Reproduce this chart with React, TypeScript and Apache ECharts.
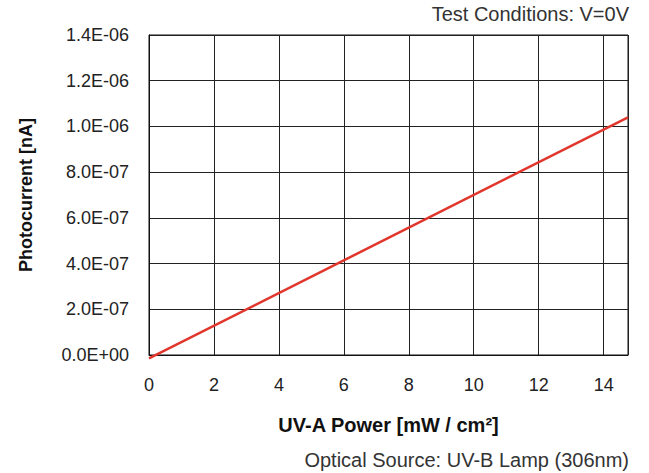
import React, { useEffect, useRef } from "react";
import * as echarts from "echarts";

const xPower: number[] = [0, 14.75];
const yCurrent: number[] = [-1.5e-8, 1.04e-6];
const xTitle = "UV-A Power [mW / cm²]";
const yTitle = "Photocurrent [nA]";
const topNote = "Test Conditions: V=0V";
const bottomNote = "Optical Source: UV-B Lamp (306nm)";

const fmtExp = (v: number) => {
  const [m, e] = v.toExponential(1).split("e");
  const sign = e[0];
  const d = e.slice(1).padStart(2, "0");
  return `${m}E${sign}${d}`.toUpperCase();
};

export default function App() {
  const ref = useRef<HTMLDivElement>(null);
  useEffect(() => {
    if (!ref.current) return;
    const chart = echarts.init(ref.current, null, { renderer: "svg" });
    const font = "'Liberation Sans', Arial, sans-serif";
    chart.setOption({
      animation: false,
      backgroundColor: "#ffffff",
      textStyle: { fontFamily: font },
      title: [
        {
          text: topNote,
          right: 20,
          top: 4,
          padding: 0,
          textStyle: { fontSize: 20, fontWeight: "normal", color: "#333", fontFamily: font },
        },
        {
          text: bottomNote,
          right: 20,
          bottom: 3,
          padding: 0,
          textStyle: { fontSize: 20, fontWeight: "normal", color: "#333", fontFamily: font },
        },
      ],
      grid: {
        left: 149,
        top: 35,
        right: 21,
        bottom: 118,
        show: true,
        borderColor: "#111",
        borderWidth: 1,
        backgroundColor: "transparent",
      },
      xAxis: {
        type: "value",
        min: 0,
        max: 14.75,
        interval: 2,
        name: xTitle,
        nameLocation: "middle",
        nameGap: 60,
        nameTextStyle: { fontSize: 20, fontWeight: "bold", color: "#111", fontFamily: font },
        axisLine: { show: true, lineStyle: { color: "#111", width: 1 } },
        axisTick: { show: false },
        axisLabel: {
          showMaxLabel: false,
          margin: 21,
          fontSize: 18,
          color: "#222",
          fontFamily: font,
          formatter: (v: number) => (v % 2 === 0 ? String(v) : ""),
        },
        splitLine: { show: true, lineStyle: { color: "#222", width: 1 } },
      },
      yAxis: {
        type: "value",
        min: 0,
        max: 1.4e-6,
        interval: 2e-7,
        name: yTitle,
        nameLocation: "middle",
        nameGap: 114,
        nameTextStyle: { fontSize: 18, fontWeight: "bold", color: "#111", fontFamily: font },
        axisLine: { show: true, lineStyle: { color: "#111", width: 1 } },
        axisTick: { show: false },
        axisLabel: {
          margin: 20,
          fontSize: 18,
          color: "#222",
          fontFamily: font,
          formatter: (v: number) => fmtExp(v),
        },
        splitLine: { show: true, lineStyle: { color: "#222", width: 1 } },
      },
      series: [
        {
          type: "line",
          data: xPower.map((x, i) => [x, yCurrent[i]]),
          showSymbol: false,
          symbol: "none",
          clip: false,
          lineStyle: { color: "#e0362c", width: 2.5 },
        },
      ],
    });
    return () => chart.dispose();
  }, []);
  return (
    <div
      ref={ref}
      style={{ position: "fixed", left: 0, top: 0, width: 649, height: 473 }}
    />
  );
}
